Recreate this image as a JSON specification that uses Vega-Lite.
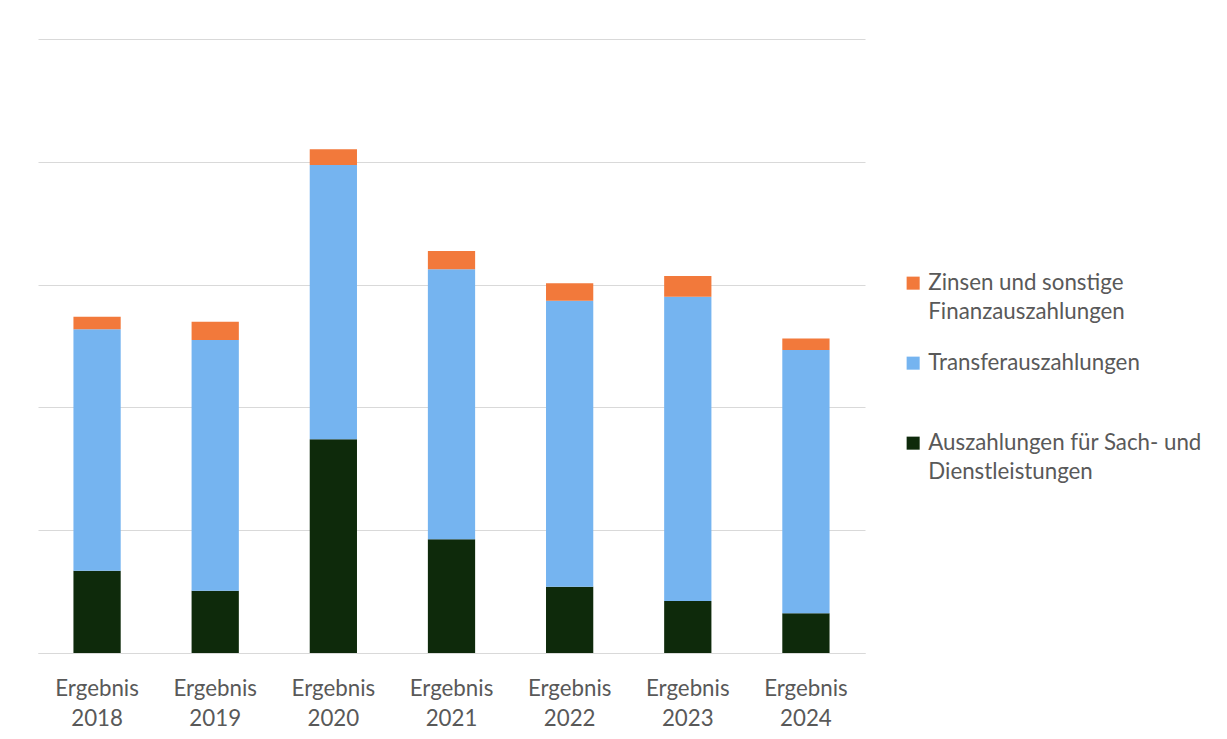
{
  "$schema": "https://vega.github.io/schema/vega-lite/v6.json",
  "width": 827,
  "height": 614,
  "autosize": "none",
  "padding": {"left": 38, "top": 39, "right": 362, "bottom": 86},
  "background": "white",
  "config": {
    "view": {"stroke": null},
    "font": "Lato"
  },
  "data": {
    "values": [
      {"jahr": "2018", "art": "Auszahlungen für Sach- und Dienstleistungen", "wert": 6.70},
      {"jahr": "2018", "art": "Transferauszahlungen", "wert": 19.66},
      {"jahr": "2018", "art": "Zinsen und sonstige Finanzauszahlungen", "wert": 1.03},
      {"jahr": "2019", "art": "Auszahlungen für Sach- und Dienstleistungen", "wert": 5.07},
      {"jahr": "2019", "art": "Transferauszahlungen", "wert": 20.41},
      {"jahr": "2019", "art": "Zinsen und sonstige Finanzauszahlungen", "wert": 1.49},
      {"jahr": "2020", "art": "Auszahlungen für Sach- und Dienstleistungen", "wert": 17.40},
      {"jahr": "2020", "art": "Transferauszahlungen", "wert": 22.34},
      {"jahr": "2020", "art": "Zinsen und sonstige Finanzauszahlungen", "wert": 1.28},
      {"jahr": "2021", "art": "Auszahlungen für Sach- und Dienstleistungen", "wert": 9.26},
      {"jahr": "2021", "art": "Transferauszahlungen", "wert": 21.99},
      {"jahr": "2021", "art": "Zinsen und sonstige Finanzauszahlungen", "wert": 1.49},
      {"jahr": "2022", "art": "Auszahlungen für Sach- und Dienstleistungen", "wert": 5.40},
      {"jahr": "2022", "art": "Transferauszahlungen", "wert": 23.29},
      {"jahr": "2022", "art": "Zinsen und sonstige Finanzauszahlungen", "wert": 1.42},
      {"jahr": "2023", "art": "Auszahlungen für Sach- und Dienstleistungen", "wert": 4.23},
      {"jahr": "2023", "art": "Transferauszahlungen", "wert": 24.78},
      {"jahr": "2023", "art": "Zinsen und sonstige Finanzauszahlungen", "wert": 1.69},
      {"jahr": "2024", "art": "Auszahlungen für Sach- und Dienstleistungen", "wert": 3.23},
      {"jahr": "2024", "art": "Transferauszahlungen", "wert": 21.44},
      {"jahr": "2024", "art": "Zinsen und sonstige Finanzauszahlungen", "wert": 0.95}
    ]
  },
  "mark": {"type": "bar"},
  "encoding": {
    "x": {
      "field": "jahr",
      "type": "nominal",
      "sort": ["2018", "2019", "2020", "2021", "2022", "2023", "2024"],
      "scale": {"paddingInner": 0.6, "paddingOuter": 0.3},
      "axis": {
        "title": null,
        "labelAngle": 0,
        "labelExpr": "['Ergebnis', datum.label]",
        "labelFontSize": 22.3,
        "labelColor": "#595959",
        "labelLineHeight": 30,
        "labelPadding": 24,
        "labelBaseline": "top",
        "ticks": false,
        "domain": true,
        "domainColor": "#D9D9D9"
      }
    },
    "y": {
      "field": "wert",
      "type": "quantitative",
      "stack": "zero",
      "scale": {"domain": [0, 50]},
      "axis": {
        "title": null,
        "labels": false,
        "ticks": false,
        "domain": false,
        "values": [0, 10, 20, 30, 40, 50],
        "gridColor": "#D9D9D9",
        "gridWidth": 1
      }
    },
    "color": {
      "field": "art",
      "type": "nominal",
      "scale": {
        "domain": [
          "Zinsen und sonstige Finanzauszahlungen",
          "Transferauszahlungen",
          "Auszahlungen für Sach- und Dienstleistungen"
        ],
        "range": ["#F2793B", "#75B4F0", "#0E2A0B"]
      },
      "legend": {
        "title": null,
        "orient": "none",
        "legendX": 864,
        "legendY": 233,
        "symbolType": "square",
        "symbolSize": 170,
        "symbolStrokeWidth": 0,
        "labelFontSize": 22.3,
        "labelColor": "#595959",
        "labelOffset": 4,
        "labelLimit": 400,
        "gridAlign": "all",
        "rowPadding": 28,
        "encode": {
          "labels": {"update": {"lineHeight": {"value": 29}}}
        },
        "labelExpr": "datum.label == 'Zinsen und sonstige Finanzauszahlungen' ? ['Zinsen und sonstige', 'Finanzauszahlungen'] : datum.label == 'Auszahlungen für Sach- und Dienstleistungen' ? ['Auszahlungen für Sach- und', 'Dienstleistungen'] : datum.label"
      }
    },
    "order": {"field": "art", "type": "nominal", "sort": "ascending"}
  }
}
